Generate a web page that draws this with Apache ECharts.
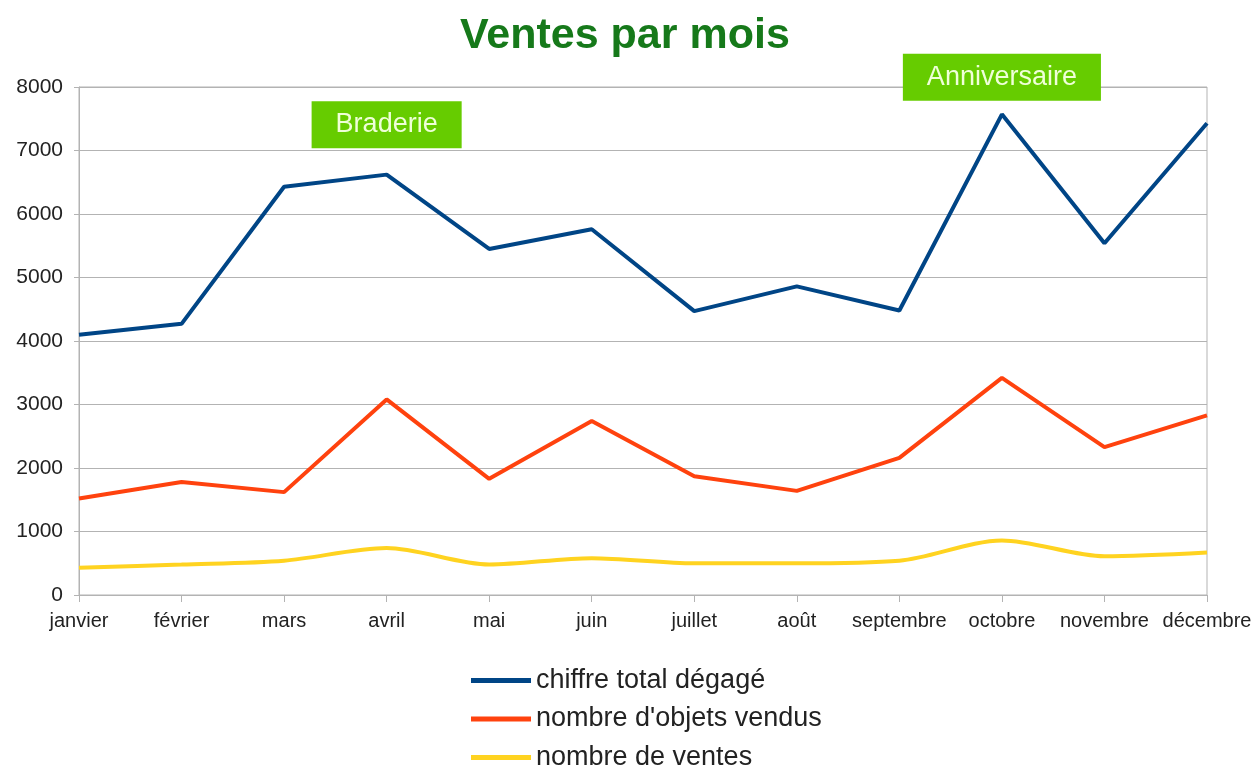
<!DOCTYPE html>
<html>
<head>
<meta charset="utf-8">
<script src="https://cdn.jsdelivr.net/npm/echarts@6/dist/echarts.min.js"></script>
<style>
  html, body { margin: 0; padding: 0; background: #fff; }
  #main { width: 1259px; height: 767px; }
</style>
</head>
<body>
<div id="main"></div>
<script>
var mois = ['janvier', 'février', 'mars', 'avril', 'mai', 'juin', 'juillet', 'août', 'septembre', 'octobre', 'novembre', 'décembre'];
var chiffreTotal = [4100, 4270, 6430, 6620, 5450, 5760, 4470, 4860, 4480, 7570, 5540, 7430];
var objetsVendus = [1520, 1780, 1620, 3080, 1830, 2740, 1870, 1640, 2160, 3420, 2330, 2830];
var nbVentes = [430, 480, 540, 740, 480, 580, 500, 500, 540, 860, 610, 670];
var noms = ['chiffre total dégagé', "nombre d'objets vendus", 'nombre de ventes'];
// annotations: [mois, texte, décalage vertical de l'étiquette]
var evenements = [['avril', 'Braderie', -50], ['octobre', 'Anniversaire', -37]];

var myChart = echarts.init(document.getElementById('main'));
var font = 'Liberation Sans, Arial, sans-serif';

var option = {
    animation: false,
    textStyle: { fontFamily: font },
    title: {
        text: 'Ventes par mois',
        left: 455,
        top: 10,
        textStyle: { color: '#16791a', fontSize: 43, fontWeight: 'bold', fontFamily: font }
    },
    grid: {
        left: 79, right: 52, top: 87, bottom: 172,
        show: true, borderColor: '#b3b3b3', borderWidth: 1
    },
    legend: {
        orient: 'vertical',
        left: 466,
        top: 662,
        height: 200,
        itemWidth: 60,
        itemHeight: 5,
        itemGap: 11.5,
        icon: 'rect',
        textStyle: { fontSize: 27, color: '#222', fontFamily: font },
        data: noms
    },
    xAxis: {
        type: 'category',
        data: mois,
        boundaryGap: false,
        axisLine: { lineStyle: { color: '#b3b3b3' } },
        axisTick: { show: true, length: 7, lineStyle: { color: '#b3b3b3' } },
        axisLabel: { color: '#222', fontSize: 20, margin: 16, interval: 0 },
        splitLine: { show: false }
    },
    yAxis: {
        type: 'value',
        min: 0, max: 8000, interval: 1000,
        axisLine: { show: true, lineStyle: { color: '#b3b3b3' } },
        axisTick: { show: true, length: 5, lineStyle: { color: '#b3b3b3' } },
        axisLabel: { color: '#222', fontSize: 21, margin: 16, formatter: function (v) { return String(v); } },
        splitLine: { lineStyle: { color: '#b3b3b3' } }
    },
    series: [
        {
            name: noms[0], type: 'line', data: chiffreTotal,
            symbol: 'none', color: '#004586', lineStyle: { width: 4 },
            markPoint: {
                symbol: 'rect', symbolSize: 0,
                label: {
                    show: true, position: 'inside',
                    formatter: function (p) { return p.name; },
                    backgroundColor: '#66cc00', color: '#efffd8',
                    fontSize: 27, padding: [10, 24, 10, 24], fontFamily: font
                },
                data: evenements.map(function (e) {
                    var v = chiffreTotal[mois.indexOf(e[0])];
                    return { name: e[1], coord: [e[0], v], label: { offset: [0, e[2]] } };
                })
            }
        },
        {
            name: noms[1], type: 'line', data: objetsVendus,
            symbol: 'none', color: '#ff420e', lineStyle: { width: 4 }
        },
        {
            name: noms[2], type: 'line', data: nbVentes, smooth: 0.3,
            symbol: 'none', color: '#ffd320', lineStyle: { width: 4 }
        }
    ]
};
myChart.setOption(option);
</script>
</body>
</html>
